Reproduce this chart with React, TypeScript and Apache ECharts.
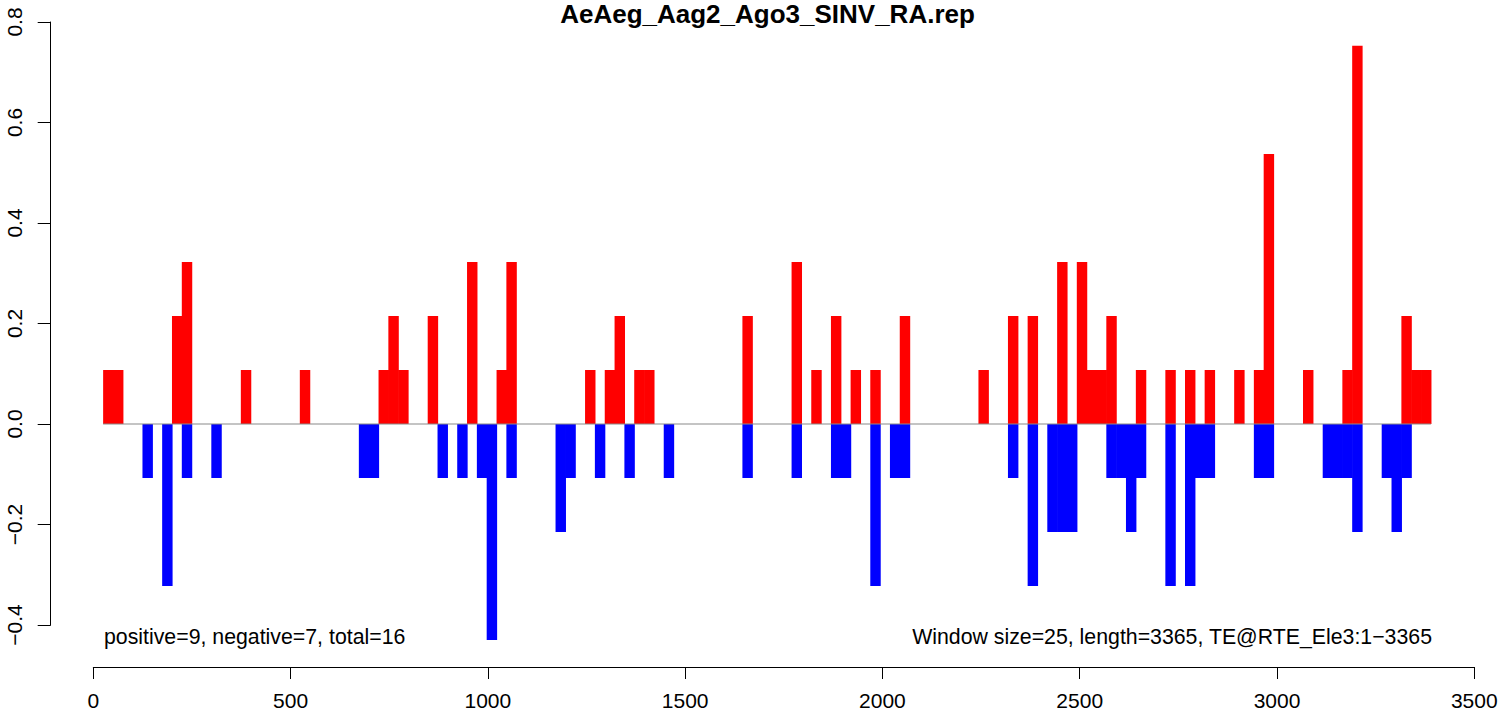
import React, { useEffect, useRef } from "react";
import * as echarts from "echarts";

const TITLE = "AeAeg_Aag2_Ago3_SINV_RA.rep";
const LEFT_NOTE = "positive=9, negative=7, total=16";
const RIGHT_NOTE = "Window size=25, length=3365, TE@RTE_Ele3:1\u22123365";

const BIN = 24.93;

const POS_START = [
  24.9, 49.9, 199.4, 224.3, 373.9, 523.4, 722.9, 747.8, 772.7, 847.5, 947.2, 1022.0, 1046.9,
  1246.3, 1296.2, 1321.1, 1370.9, 1395.9, 1645.1, 1769.7, 1819.6, 1869.5, 1919.3, 1969.2, 2043.9,
  2243.3, 2318.1, 2368.0, 2442.7, 2492.6, 2517.5, 2542.5, 2567.4, 2642.2, 2717.0, 2766.8, 2816.6,
  2891.4, 2941.3, 2966.2, 3065.9, 3165.6, 3190.5, 3315.2, 3340.1, 3365.0,
];
const POS_VALUE = [
  0.1075, 0.1075, 0.215, 0.3225, 0.1075, 0.1075, 0.1075, 0.215, 0.1075, 0.215, 0.3225, 0.1075, 0.3225,
  0.1075, 0.1075, 0.215, 0.1075, 0.1075, 0.215, 0.3225, 0.1075, 0.215, 0.1075, 0.1075, 0.215,
  0.1075, 0.215, 0.215, 0.3225, 0.3225, 0.1075, 0.1075, 0.215, 0.1075, 0.1075, 0.1075, 0.1075,
  0.1075, 0.1075, 0.5375, 0.1075, 0.1075, 0.7525, 0.215, 0.1075, 0.1075,
];

const NEG_START = [
  124.6, 174.5, 224.3, 299.1, 673.0, 697.9, 872.4, 922.3, 972.1, 997.0, 1046.9, 1171.5, 1196.4,
  1271.2, 1346.0, 1445.7, 1645.1, 1769.7, 1869.5, 1894.4, 1969.2, 2019.0, 2043.9, 2318.1, 2368.0,
  2417.8, 2442.7, 2467.7, 2567.4, 2592.3, 2617.2, 2642.2, 2717.0, 2766.8, 2791.7, 2816.6, 2941.3,
  2966.2, 3115.8, 3140.7, 3165.6, 3190.5, 3265.3, 3290.2, 3315.2,
];
const NEG_VALUE = [
  -0.1075, -0.3225, -0.1075, -0.1075, -0.1075, -0.1075, -0.1075, -0.1075, -0.1075, -0.43, -0.1075, -0.215, -0.1075,
  -0.1075, -0.1075, -0.1075, -0.1075, -0.1075, -0.1075, -0.1075, -0.3225, -0.1075, -0.1075, -0.1075, -0.3225,
  -0.215, -0.215, -0.215, -0.1075, -0.1075, -0.215, -0.1075, -0.3225, -0.3225, -0.1075, -0.1075, -0.1075,
  -0.1075, -0.1075, -0.1075, -0.1075, -0.215, -0.1075, -0.215, -0.1075,
];

const ZERO_LINE_X = [24.9, 3390.0];

const FONT = '"Liberation Sans", Arial, Helvetica, sans-serif';

function makeBars(color: string) {
  return (params: any, api: any) => {
    const x0 = api.value(0);
    const v = api.value(1);
    const p0 = api.coord([x0, 0]);
    const p1 = api.coord([x0 + BIN, v]);
    return {
      type: "rect",
      shape: {
        x: p0[0],
        y: Math.min(p0[1], p1[1]),
        width: p1[0] - p0[0] + 0.6,
        height: Math.abs(p1[1] - p0[1]),
      },
      style: { fill: color },
    };
  };
}

export default function App() {
  const ref = useRef<HTMLDivElement>(null);
  useEffect(() => {
    document.body.style.margin = "0";
    const chart = echarts.init(ref.current!, null, { renderer: "svg" });
    chart.setOption({
      animation: false,
      backgroundColor: "#ffffff",
      grid: {
        left: 93.3,
        top: 22,
        width: 1381,
        height: 603,
        containLabel: false,
        outerBoundsMode: "none",
      },
      xAxis: {
        type: "value",
        min: 0,
        max: 3500,
        interval: 500,
        offset: 42,
        splitLine: { show: false },
        axisLine: { show: true, onZero: false, lineStyle: { color: "#000", width: 1 } },
        axisTick: { show: true, length: 12, lineStyle: { color: "#000", width: 1 } },
        axisLabel: {
          color: "#000",
          fontSize: 21,
          fontFamily: FONT,
          margin: 23,
          formatter: (v: number) => String(v),
        },
      },
      yAxis: {
        type: "value",
        min: -0.4,
        max: 0.8,
        interval: 0.2,
        offset: 42.6,
        splitLine: { show: false },
        axisLine: { show: true, onZero: false, lineStyle: { color: "#000", width: 1 } },
        axisTick: { show: true, length: 13, lineStyle: { color: "#000", width: 1 } },
        axisLabel: {
          color: "#000",
          fontSize: 21,
          fontFamily: FONT,
          rotate: 90,
          margin: 26,
          formatter: (v: number) => {
            const r = Math.round(v * 10) / 10;
            return (r < 0 ? "\u2212" : "") + Math.abs(r).toFixed(1);
          },
        },
      },
      series: [
        {
          type: "custom",
          name: "positive",
          renderItem: makeBars("#ff0000"),
          data: POS_START.map((s, i) => [s, POS_VALUE[i]]),
          z: 2,
        },
        {
          type: "custom",
          name: "negative",
          renderItem: makeBars("#0000ff"),
          data: NEG_START.map((s, i) => [s, NEG_VALUE[i]]),
          z: 2,
        },
        {
          type: "line",
          name: "zero",
          data: ZERO_LINE_X.map((x) => [x, 0]),
          symbol: "none",
          lineStyle: { color: "#8a8a8a", width: 1.2 },
          z: 3,
          silent: true,
        },
      ],
      graphic: [
        {
          type: "text",
          x: 767.5,
          y: 13.5,
          style: {
            text: TITLE,
            font: `bold 26px ${FONT}`,
            fill: "#000",
            textAlign: "center",
            textVerticalAlign: "middle",
          },
        },
        {
          type: "text",
          x: 104,
          y: 636.5,
          style: {
            text: LEFT_NOTE,
            font: `21.3px ${FONT}`,
            fill: "#000",
            textAlign: "left",
            textVerticalAlign: "middle",
          },
        },
        {
          type: "text",
          x: 1432,
          y: 636.5,
          style: {
            text: RIGHT_NOTE,
            font: `21.3px ${FONT}`,
            fill: "#000",
            textAlign: "right",
            textVerticalAlign: "middle",
          },
        },
      ],
    });
    return () => chart.dispose();
  }, []);
  return (
    <div
      ref={ref}
      style={{ position: "absolute", left: 0, top: 0, width: 1498, height: 714, background: "#fff" }}
    />
  );
}
